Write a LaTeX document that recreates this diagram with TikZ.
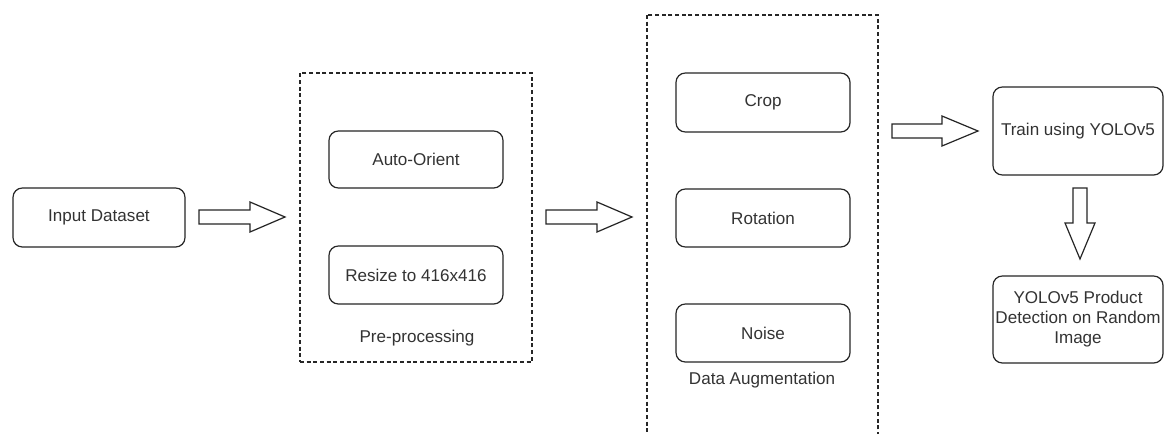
\documentclass[tikz,border=0pt]{standalone}
\usepackage{fontspec}
\setmainfont{Liberation Sans}
\begin{document}
\begin{tikzpicture}[x=0.75pt,y=-0.75pt,
  line width=0.9pt,
  every node/.style={text=black!80, font=\fontsize{12.8pt}{15pt}\selectfont},
  box/.style={draw=black!85, rounded corners=7pt, inner sep=0pt, outer sep=0pt, align=center},
  groupbox/.style={draw=black!85, dash pattern=on 3pt off 2pt, inner sep=0pt},
  blockarrow/.style={draw=black!85, fill=white, line join=miter}]
\clip (0,0) rectangle (1164,433);
\fill[white] (0,0) rectangle (1164,433);

% group frames
\node[groupbox, minimum width=174pt, minimum height=216.75pt] (pre) at (416,217.5) {};
\draw[groupbox] (647,15) rectangle (878,450);
\node (prelabel) at (417,338) {Pre-processing};
\node (auglabel) at (762,380) {Data Augmentation};

% boxes
\node[box, minimum width=129pt, minimum height=44.25pt] (input) at (99,217.5) {Input Dataset};
\node[box, minimum width=130.5pt, minimum height=42.75pt] (orient) at (416,159.5) {Auto-Orient};
\node[box, minimum width=130.5pt, minimum height=43.5pt] (resize) at (416,275) {Resize to 416x416};
\node[box, minimum width=130.5pt, minimum height=44.25pt] (crop) at (763,102.5) {Crop};
\node[box, minimum width=130.5pt, minimum height=43.5pt] (rot) at (763,218) {Rotation};
\node[box, minimum width=130.5pt, minimum height=43.5pt] (noise) at (763,333) {Noise};
\node[box, minimum width=127.5pt, minimum height=66pt] (train) at (1078,131) {Train using YOLOv5};
\node[box, minimum width=127.5pt, minimum height=65.25pt] (yolo) at (1078,319.5) {YOLOv5 Product\\Detection on Random\\Image};

% block arrows
\draw[blockarrow] (199,210)--(250,210)--(250,202)--(285,217)--(250,232)--(250,224)--(199,224)--cycle;
\draw[blockarrow] (546,210)--(597,210)--(597,202)--(632,217)--(597,232)--(597,224)--(546,224)--cycle;
\draw[blockarrow] (892,124)--(942,124)--(942,116)--(978,131)--(942,146)--(942,138)--(892,138)--cycle;
\draw[blockarrow] (1073,188)--(1087,188)--(1087,223)--(1095,223)--(1080,259)--(1065,223)--(1073,223)--cycle;
\end{tikzpicture}
\end{document}
